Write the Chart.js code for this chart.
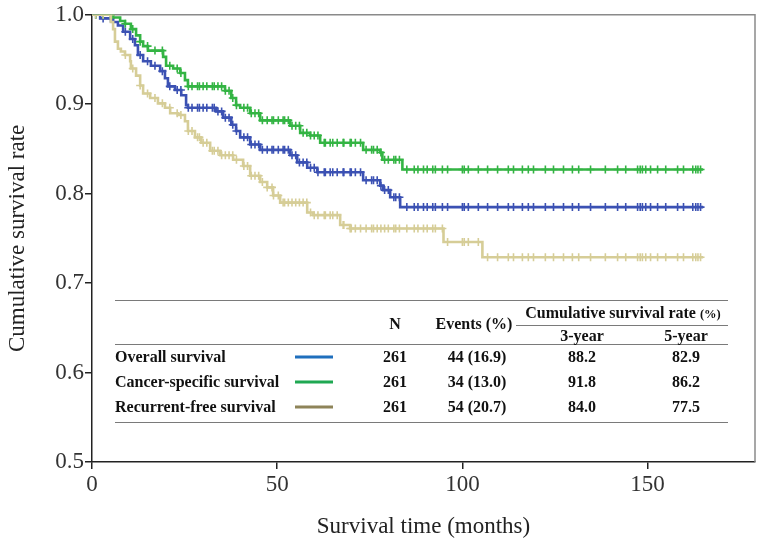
<!DOCTYPE html>
<html>
<head>
<meta charset="utf-8">
<script src="https://cdn.jsdelivr.net/npm/chart.js@4.4.1/dist/chart.umd.min.js"></script>
<style>
  html, body { margin: 0; padding: 0; background: #fff; }
  #wrap { position: relative; width: 769px; height: 541px; overflow: hidden; }
  #km { position: absolute; left: 0; top: 0; }
  .t { position: absolute; font-family: "Liberation Serif", "Times New Roman", serif; font-weight: bold;
       font-size: 16px; color: #111; white-space: nowrap; line-height: 1; }
  .c { transform: translate(-50%, -50%); }
  .l { transform: translateY(-50%); }
  .hr { position: absolute; height: 0; border-top: 1.5px solid #7a7a7a; }
  .key { position: absolute; height: 3px; transform: translateY(-50%); }
</style>
</head>
<body>
<div id="wrap">
  <canvas id="km" width="769" height="541"></canvas>
</div>

<script>
// ---- data ----
const xTicks = [0, 50, 100, 150];
const yTicks = [0.5, 0.6, 0.7, 0.8, 0.9, 1.0];
const followUpEnd = 165;

// overall survival (blue)
const osTime = [2.2, 5.7, 7.0, 8.4, 10.3, 11.6, 12.4, 13.8, 15.9, 18.4, 19.7, 20.5, 22.4, 24.1, 25.4, 25.9,
  33.5, 35.4, 37.6, 38.9, 40.0, 42.7, 45.4, 53.5, 55.4, 58.1, 60.8, 73.2, 77.8, 78.6, 80.5, 83.2];
const osSurv = [0.996, 0.992, 0.988, 0.981, 0.973, 0.966, 0.955, 0.948, 0.943, 0.937, 0.929, 0.920, 0.916, 0.910, 0.899, 0.896,
  0.892, 0.885, 0.877, 0.870, 0.863, 0.855, 0.849, 0.843, 0.835, 0.829, 0.824, 0.815, 0.809, 0.804, 0.796, 0.785];

// cancer-specific survival (green)
const cssTime = [5.7, 7.6, 8.9, 10.5, 11.9, 13.0, 13.8, 15.1, 19.2, 20.0, 21.9, 23.8, 25.1, 25.9,
  35.9, 37.6, 38.9, 40.0, 42.7, 45.4, 53.5, 56.2, 58.9, 61.6, 73.2, 77.8, 78.4, 83.8];
const cssSurv = [0.997, 0.993, 0.990, 0.984, 0.977, 0.970, 0.965, 0.960, 0.953, 0.943, 0.940, 0.935, 0.927, 0.920,
  0.915, 0.907, 0.899, 0.896, 0.890, 0.882, 0.876, 0.868, 0.865, 0.857, 0.849, 0.846, 0.838, 0.827];

// recurrent-free survival (tan)
const rfsTime = [5.1, 5.7, 6.2, 7.0, 7.8, 8.9, 10.3, 10.5, 11.9, 13.0, 13.8, 15.7, 17.8, 19.7, 21.1, 23.2, 25.1, 25.9,
  27.8, 29.5, 31.9, 34.6, 38.1, 40.8, 42.7, 45.4, 47.3, 48.9, 50.8, 58.1, 59.7, 67.0, 69.7, 94.9, 105.4];
const rfsSurv = [0.992, 0.984, 0.970, 0.962, 0.959, 0.955, 0.948, 0.940, 0.932, 0.921, 0.912, 0.907, 0.901, 0.896, 0.890, 0.888, 0.881, 0.870,
  0.863, 0.857, 0.848, 0.843, 0.838, 0.831, 0.820, 0.813, 0.807, 0.798, 0.790, 0.779, 0.776, 0.765, 0.761, 0.746, 0.729];

// censored times (tick marks on the curves)
const censorTimes = [1, 3, 5, 9, 11, 13, 15, 17, 19, 21, 23, 24, 26, 27, 28.5, 29, 30, 31, 32.5, 33, 34, 35, 36, 37, 38,
  39, 41, 42, 43, 44, 45, 46, 47.3, 48.6, 49, 50.3, 51.6, 52, 53, 54, 55, 56, 57, 58, 59, 60, 61, 62.7, 63, 64.3,
  65, 66.2, 67.8, 68, 69.7, 70, 71.1, 72.5, 74, 75.5, 76, 77, 78, 79, 80, 81.5, 82, 83,
  85, 87, 88, 89.5, 90.5, 92, 92.7, 94.6, 96, 100, 100.5, 101.6, 104.3, 106.8, 109.5, 112.4, 113.8, 116.2,
  117.8, 119.2, 122.4, 124.6, 127.3, 129.7, 131.4, 134.6, 138.6, 141.9, 144.1, 147.3, 148, 148.6, 149.5,
  150.8, 152.7, 154.9, 158.1, 159.7, 162.2, 163, 163.6, 164.3];

// table
const groups = ['Overall survival', 'Cancer-specific survival', 'Recurrent-free survival'];
const nPatients = [261, 261, 261];
const nEvents = [44, 34, 54];
const pctEvents = ['16.9', '13.0', '20.7'];
const rate3y = ['88.2', '91.8', '84.0'];
const rate5y = ['82.9', '86.2', '77.5'];

const curveColors = ['#3b51b3', '#33b443', '#d6cd97'];
const keyColors = ['#1f6fbd', '#1fa852', '#8e8459'];

// ---- helpers ----
function survivalAt(times, surv, t) {
  let s = 1;
  for (let i = 0; i < times.length; i++) {
    if (times[i] <= t) s = surv[i];
  }
  return s;
}

function stepPoints(times, surv) {
  let pts = [{x: 0, y: 1}];
  times.forEach(function (t, i) { pts.push({x: t, y: surv[i]}); });
  pts.push({x: followUpEnd, y: surv[surv.length - 1]});
  return pts;
}

function censorPoints(times, surv) {
  return censorTimes.map(function (t) { return {x: t, y: survivalAt(times, surv, t)}; });
}

const curves = [
  [osTime, osSurv],
  [cssTime, cssSurv],
  [rfsTime, rfsSurv]
];

// draw tan first, then green, blue on top
let datasets = [];
[2, 1, 0].forEach(function (k) {
  let times = curves[k][0], surv = curves[k][1];
  datasets.push({
    type: 'line',
    data: stepPoints(times, surv),
    stepped: true,
    borderColor: curveColors[k],
    borderWidth: 2.6,
    pointRadius: 0,
    fill: false
  });
  datasets.push({
    type: 'scatter',
    data: censorPoints(times, surv),
    pointStyle: 'cross',
    pointRadius: 4,
    pointBorderWidth: 1.6,
    pointBorderColor: curveColors[k],
    borderColor: curveColors[k]
  });
});

const frame = {
  id: 'frame',
  beforeDatasetsDraw(chart) {
    const ctx = chart.ctx, a = chart.chartArea;
    ctx.save();
    ctx.strokeStyle = '#8a8a8a';
    ctx.lineWidth = 1.5;
    ctx.beginPath();
    ctx.moveTo(a.left, a.top);
    ctx.lineTo(a.right, a.top);
    ctx.lineTo(a.right, a.bottom);
    ctx.stroke();
    ctx.restore();
  }
};

const serif = '"Liberation Serif", "Times New Roman", serif';

new Chart(document.getElementById('km'), {
  data: {datasets: datasets},
  options: {
    responsive: false,
    animation: false,
    layout: {padding: {left: 0, top: 11, right: 14, bottom: 0}},
    plugins: {legend: {display: false}, tooltip: {enabled: false}},
    scales: {
      x: {
        type: 'linear',
        min: 0,
        max: 179,
        afterFit: function (s) { s.height = 79; },
        afterBuildTicks: function (s) { s.ticks = xTicks.map(function (v) { return {value: v}; }); },
        ticks: {font: {family: serif, size: 23}, color: '#333', padding: 2, maxRotation: 0},
        grid: {drawOnChartArea: false, drawTicks: true, tickLength: 7, color: '#222', lineWidth: 1.5},
        border: {display: true, color: '#222', width: 1.5},
        title: {display: true, text: 'Survival time (months)', font: {family: serif, size: 23}, color: '#222',
                padding: {top: 0, bottom: 0}}
      },
      y: {
        type: 'linear',
        min: 0.5,
        max: 1.0,
        afterFit: function (s) { s.width = 92; },
        afterBuildTicks: function (s) { s.ticks = yTicks.map(function (v) { return {value: v}; }); },
        ticks: {font: {family: serif, size: 23}, color: '#333', padding: 1,
                callback: function (v) { return Number(v).toFixed(1); }},
        grid: {drawOnChartArea: false, drawTicks: true, tickLength: 7, color: '#222', lineWidth: 1.5},
        border: {display: true, color: '#222', width: 1.5},
        title: {display: true, text: 'Cumulative survival rate', font: {family: serif, size: 23}, color: '#222',
                padding: {top: 4, bottom: 0}}
      }
    }
  },
  plugins: [frame]
});

// ---- summary table overlaid inside the plot ----
const wrap = document.getElementById('wrap');

function addText(txt, x, y, cls, size) {
  let d = document.createElement('div');
  d.className = 't ' + cls;
  d.style.left = x + 'px';
  d.style.top = y + 'px';
  if (size) d.style.fontSize = size + 'px';
  d.innerHTML = txt;
  wrap.appendChild(d);
}

function addRule(x1, x2, y) {
  let d = document.createElement('div');
  d.className = 'hr';
  d.style.left = x1 + 'px';
  d.style.width = (x2 - x1) + 'px';
  d.style.top = y + 'px';
  wrap.appendChild(d);
}

const colN = 395, colEv = 477, col3 = 582, col5 = 686;
const rowY = [357, 382, 407];

addRule(115, 728, 300);
addRule(516, 728, 325);
addRule(115, 728, 344);
addRule(115, 728, 422);

addText('Cumulative survival rate <span style="font-size:12.5px">(%)</span>', 623, 313, 'c');
addText('N', colN, 324, 'c');
addText('Events (%)', colEv - 3, 324, 'c');
addText('3-year', col3, 336, 'c');
addText('5-year', col5, 336, 'c');

groups.forEach(function (g, i) {
  addText(g, 115, rowY[i], 'l');
  let key = document.createElement('div');
  key.className = 'key';
  key.style.left = '295px';
  key.style.width = '38px';
  key.style.top = rowY[i] + 'px';
  key.style.background = keyColors[i];
  wrap.appendChild(key);
  addText(String(nPatients[i]), colN, rowY[i], 'c');
  addText(nEvents[i] + ' (' + pctEvents[i] + ')', colEv, rowY[i], 'c');
  addText(rate3y[i], col3, rowY[i], 'c');
  addText(rate5y[i], col5, rowY[i], 'c');
});
</script>
</body>
</html>
